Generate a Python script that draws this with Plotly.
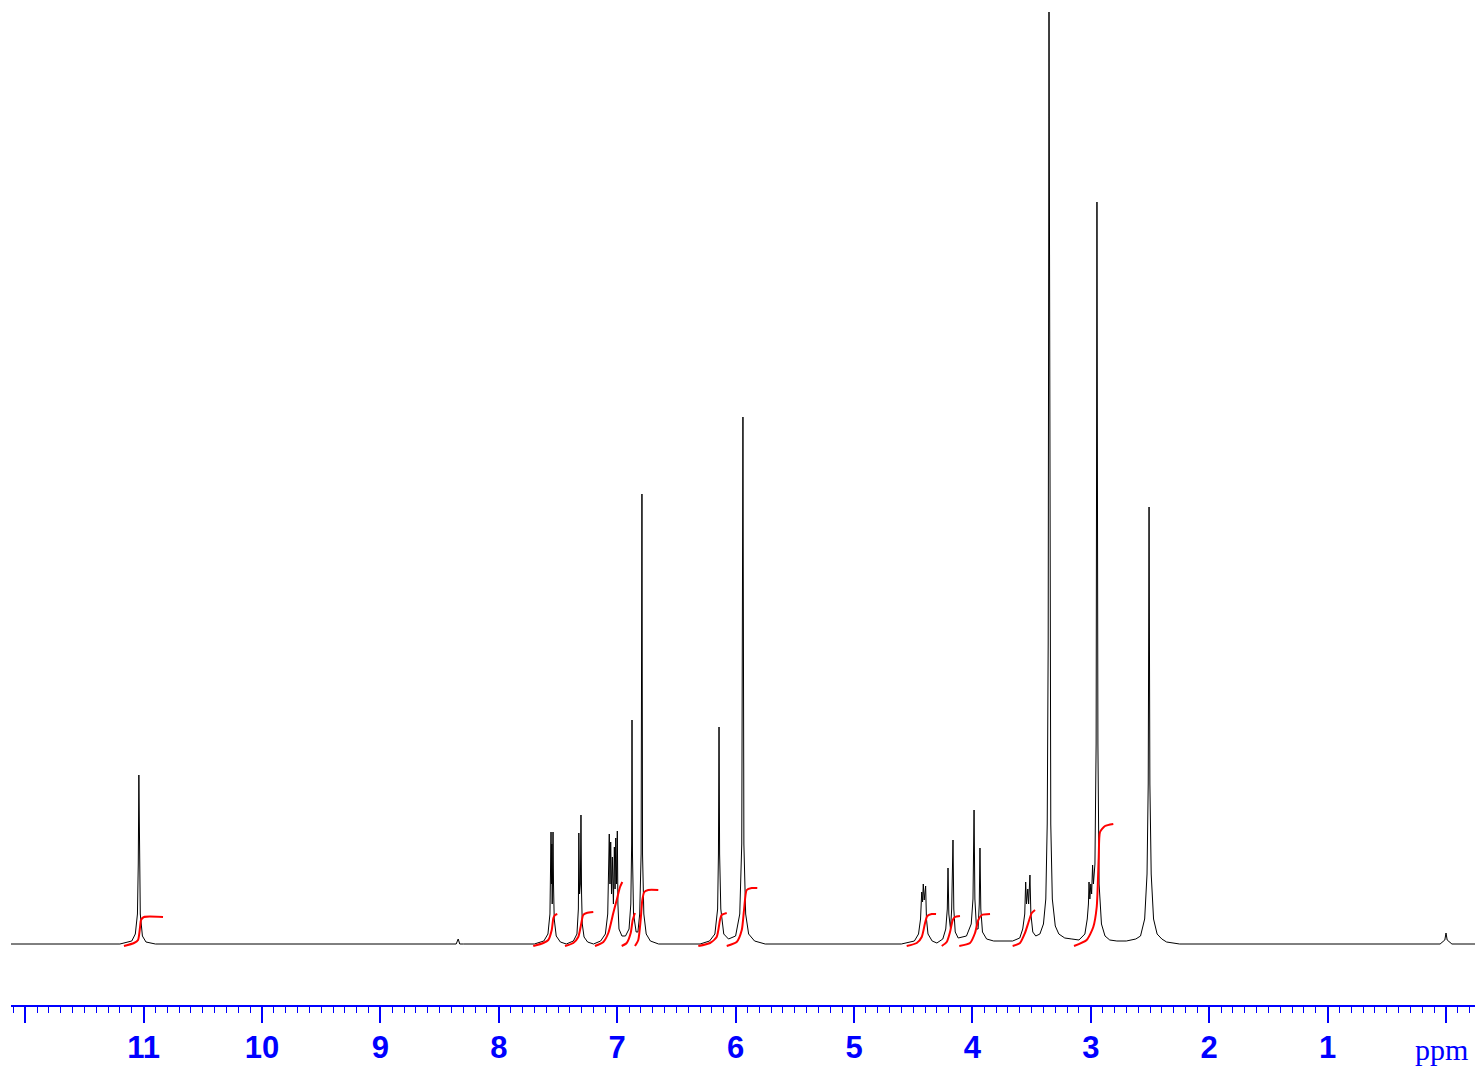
import plotly.graph_objects as go

# ---------------- data ----------------
# 1H NMR spectrum trace: chemical shift (ppm) and intensity (arbitrary units)
spectrum_ppm = [
    12.20, 11.20, 11.10, 11.07, 11.052, 11.045, 11.04, 11.035, 11.028, 11.01, 10.98, 10.90,
    8.40, 8.36, 8.343, 8.33, 8.30,
    7.70, 7.62, 7.585, 7.568, 7.562, 7.559, 7.555, 7.552, 7.549, 7.546, 7.542, 7.538, 7.532, 7.515, 7.48,
    7.43, 7.37, 7.34, 7.328, 7.324, 7.318, 7.311, 7.306, 7.301, 7.295, 7.28, 7.25,
    7.20, 7.14, 7.10, 7.08, 7.067, 7.061, 7.055, 7.048, 7.041, 7.032, 7.024, 7.018, 7.012, 7.006, 6.999,
    6.994, 6.985, 6.96, 6.93, 6.90, 6.885, 6.878, 6.875, 6.871, 6.862, 6.84, 6.825, 6.81, 6.798, 6.791,
    6.786, 6.775, 6.755, 6.72, 6.65,
    6.30, 6.22, 6.175, 6.152, 6.145, 6.140, 6.135, 6.125, 6.10, 6.06, 6.0, 5.965, 5.948, 5.938, 5.930,
    5.915, 5.89, 5.84, 5.75,
    4.60, 4.49, 4.455, 4.438, 4.428, 4.421, 4.415, 4.407, 4.395, 4.388, 4.375, 4.34, 4.30,
    4.25, 4.225, 4.212, 4.206, 4.199, 4.185, 4.175, 4.164, 4.157, 4.145, 4.12,
    4.05, 4.01, 3.995, 3.986, 3.979, 3.965, 3.952, 3.942, 3.936, 3.929, 3.915, 3.88, 3.82, 3.72,
    3.66, 3.60, 3.575, 3.558, 3.550, 3.543, 3.532, 3.525, 3.514, 3.506, 3.49, 3.465, 3.43, 3.40,
    3.38, 3.368, 3.360, 3.353, 3.346, 3.338, 3.325, 3.30, 3.27, 3.22, 3.16,
    3.10, 3.05, 3.03, 3.020, 3.015, 3.008, 3.000, 2.993, 2.985, 2.978, 2.965, 2.955, 2.948, 2.940,
    2.930, 2.91, 2.88, 2.84, 2.78, 2.70, 2.62,
    2.58, 2.545, 2.525, 2.515, 2.508, 2.501, 2.490, 2.47, 2.44, 2.40, 2.36, 2.25,
    0.05, 0.01, 0.0, -0.01, -0.05, -0.32,
]
spectrum_int = [
    0, 0, 3, 10, 30, 80, 169, 80, 30, 8, 2, 0,
    0, 0, 5, 0, 0,
    0, 3, 10, 30, 70, 112, 60, 100, 40, 105, 112, 60, 25, 8, 2,
    0, 3, 10, 35, 111, 50, 60, 129, 50, 20, 7, 2,
    0, 3, 10, 30, 110, 60, 102, 50, 87, 40, 97, 55, 106, 60, 113,
    40, 15, 8, 8, 15, 40, 100, 224, 90, 30, 12, 12, 30, 90, 450,
    90, 30, 10, 3, 0,
    0, 3, 10, 35, 90, 217, 90, 35, 10, 5, 8, 30, 100, 527, 100,
    30, 10, 3, 0,
    0, 3, 10, 25, 52, 42, 60, 44, 58, 25, 10, 3, 1,
    5, 15, 35, 76, 30, 15, 35, 104, 35, 12, 6,
    8, 20, 45, 134, 45, 15, 15, 40, 96, 35, 12, 5, 3, 3,
    3, 6, 15, 30, 62, 40, 55, 40, 69, 30, 12, 8, 10, 20,
    45, 120, 300, 932, 300, 120, 45, 18, 10, 6, 5,
    4, 10, 25, 40, 62, 45, 60, 50, 79, 60, 80, 200, 742, 200,
    60, 20, 8, 4, 3, 3, 5,
    8, 25, 70, 160, 437, 160, 70, 25, 10, 5, 2, 0,
    0, 4, 11, 4, 0, 0,
]

# Integral curves (one list per integrated region)
integral_ppm = [
    [11.166, 11.081, 11.047, 11.030, 11.022, 10.997, 10.836],
    [7.709, 7.624, 7.582, 7.553, 7.539, 7.525, 7.506],
    [7.441, 7.371, 7.329, 7.309, 7.287, 7.258, 7.202],
    [7.188, 7.117, 7.075, 7.033, 7.004, 6.976, 6.957],
    [6.962, 6.920, 6.886, 6.869, 6.850],
    [6.850, 6.822, 6.802, 6.788, 6.771, 6.738, 6.653],
    [6.315, 6.216, 6.160, 6.132, 6.118, 6.075],
    [6.075, 5.991, 5.948, 5.929, 5.906, 5.864, 5.817],
    [4.555, 4.470, 4.428, 4.400, 4.381, 4.344, 4.307],
    [4.259, 4.217, 4.189, 4.166, 4.147, 4.105],
    [4.111, 4.020, 3.978, 3.950, 3.921, 3.851],
    [3.660, 3.598, 3.556, 3.528, 3.499, 3.471],
    [3.142, 3.035, 2.979, 2.950, 2.933, 2.922, 2.880, 2.810],
]
integral_val = [
    [-2, 1, 4, 17, 24, 27, 27],
    [-2, 1, 4, 14, 26, 29, 30],
    [-2, 1, 7, 17, 29, 31, 32],
    [-2, 2, 11, 31, 44, 57, 62],
    [-2, 1, 11, 24, 31],
    [-2, 4, 24, 44, 52, 54, 54],
    [-2, 1, 7, 24, 29, 31],
    [-2, 2, 14, 34, 54, 56, 56],
    [-2, 1, 7, 21, 28, 30, 30],
    [-2, 2, 12, 24, 27, 28],
    [-2, 1, 11, 24, 29, 30],
    [-2, 1, 11, 21, 31, 34],
    [-2, 4, 17, 37, 87, 112, 118, 120],
]

tick_values = [12, 11, 10, 9, 8, 7, 6, 5, 4, 3, 2, 1, 0]
tick_labels = ["", "11", "10", "9", "8", "7", "6", "5", "4", "3", "2", "1", ""]
axis_unit = "ppm"

# ---------------- figure ----------------
BLUE = "#0000ff"
FIG_W, FIG_H = 1475, 1064          # page adds an 8 px body margin
M_L, M_B = 3, 67

int_x, int_y = [], []
for xs, ys in zip(integral_ppm, integral_val):
    int_x += xs + [None]
    int_y += ys + [None]

fig = go.Figure()
fig.add_trace(go.Scatter(
    x=spectrum_ppm, y=spectrum_int, mode="lines",
    line=dict(color="black", width=1), hoverinfo="skip", showlegend=False,
))
fig.add_trace(go.Scatter(
    x=int_x, y=int_y, mode="lines",
    line=dict(color="#ff0000", width=2, shape="spline", smoothing=0.6),
    hoverinfo="skip", showlegend=False, connectgaps=False,
))

fig.update_layout(
    width=FIG_W, height=FIG_H,
    margin=dict(l=M_L, r=0, t=0, b=M_B),
    paper_bgcolor="white", plot_bgcolor="white",
    showlegend=False,
    hovermode=False,
    xaxis=dict(
        range=[12.12, -0.3125],
        showgrid=False, zeroline=False,
        showline=True, linecolor=BLUE, linewidth=1.5,
        ticks="outside", ticklen=16, tickwidth=1.5, tickcolor=BLUE,
        tickmode="array", tickvals=tick_values, ticktext=tick_labels,
        tickfont=dict(family="Liberation Sans", size=31, color=BLUE, weight="bold"),
        ticklabelstandoff=-2,
        minor=dict(ticks="outside", ticklen=6, tickwidth=1, tickcolor=BLUE,
                   tickmode="linear", tick0=0, dtick=0.1, showgrid=False),
    ),
    yaxis=dict(
        range=[-61, 936], visible=False, showgrid=False, zeroline=False,
    ),
    annotations=[dict(
        text=axis_unit,
        x=(1441 - 8 - M_L) / (FIG_W - M_L), y=0,
        xref="paper", yref="paper", xanchor="center", yanchor="middle",
        yshift=-44, showarrow=False,
        font=dict(family="Liberation Serif", size=30, color=BLUE),
    )],
)

fig.write_html("out.html")
